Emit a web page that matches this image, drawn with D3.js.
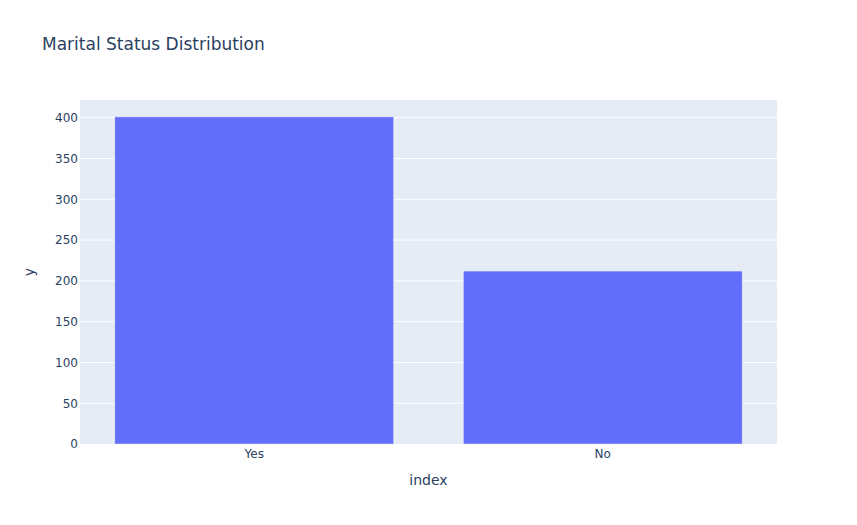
<html>
<script src='https://d3js.org/d3.v7.min.js'></script>
<style>
    body { margin: 0; font-family: "DejaVu Sans", Verdana, sans-serif; }
    text { fill: #2a3f5f; }
</style>

<body onload='init()'>
    <svg width=857 height=525></svg>
    <script>
        const categories = ['Yes', 'No'];
        const counts = [401, 212];
        const yTicks = [0, 50, 100, 150, 200, 250, 300, 350, 400];

        function init() {
            const svg = d3.select('svg');
            const left = 80, right = 777, top = 100, bottom = 444;

            let x = d3.scaleBand().domain(categories).range([left, right])
                .paddingInner(0.2).paddingOuter(0.1);
            let y = d3.scaleLinear().domain([0, 421.7]).range([bottom, top]);

            // plot background
            svg.append('rect')
                .attr('x', left).attr('y', top)
                .attr('width', right - left).attr('height', bottom - top)
                .attr('fill', '#e5ecf6');

            // grid
            svg.append('g')
                .selectAll('line')
                .data(yTicks.filter(d => d > 0))
                .enter()
                .append('line')
                .attr('x1', left).attr('x2', right)
                .attr('y1', d => y(d)).attr('y2', d => y(d))
                .attr('stroke', 'white').attr('stroke-width', 1);

            // bars
            svg.append('g')
                .selectAll('rect')
                .data(categories)
                .enter()
                .append('rect')
                .attr('x', d => x(d))
                .attr('width', x.bandwidth())
                .attr('y', (d, i) => y(counts[i]))
                .attr('height', (d, i) => y(0) - y(counts[i]))
                .attr('fill', '#636efa')
                .attr('stroke', '#e5ecf6')
                .attr('stroke-width', 0.5);

            // axes (plotly-like, no domain lines)
            let y_axis = d3.axisLeft(y).tickValues(yTicks).tickSize(0).tickPadding(2);
            let x_axis = d3.axisBottom(x).tickSize(0).tickPadding(5);
            let gy = svg.append('g').attr('transform', `translate(${left},0)`).call(y_axis);
            let gx = svg.append('g').attr('transform', `translate(0,${bottom})`).call(x_axis);
            [gx, gy].forEach(g => {
                g.select('.domain').remove();
                g.selectAll('text')
                    .attr('font-family', '"DejaVu Sans", Verdana, sans-serif')
                    .attr('font-size', 12)
                    .style('fill', '#2a3f5f');
            });

            // titles
            svg.append('text')
                .attr('x', 42).attr('y', 50)
                .attr('font-size', 17)
                .text('Marital Status Distribution');
            svg.append('text')
                .attr('x', (left + right) / 2).attr('y', 485)
                .attr('text-anchor', 'middle')
                .attr('font-size', 14)
                .text('index');
            svg.append('text')
                .attr('transform', `translate(34,${(top + bottom) / 2}) rotate(-90)`)
                .attr('text-anchor', 'middle')
                .attr('font-size', 14)
                .text('y');
        }
    </script>
</body>

</html>
